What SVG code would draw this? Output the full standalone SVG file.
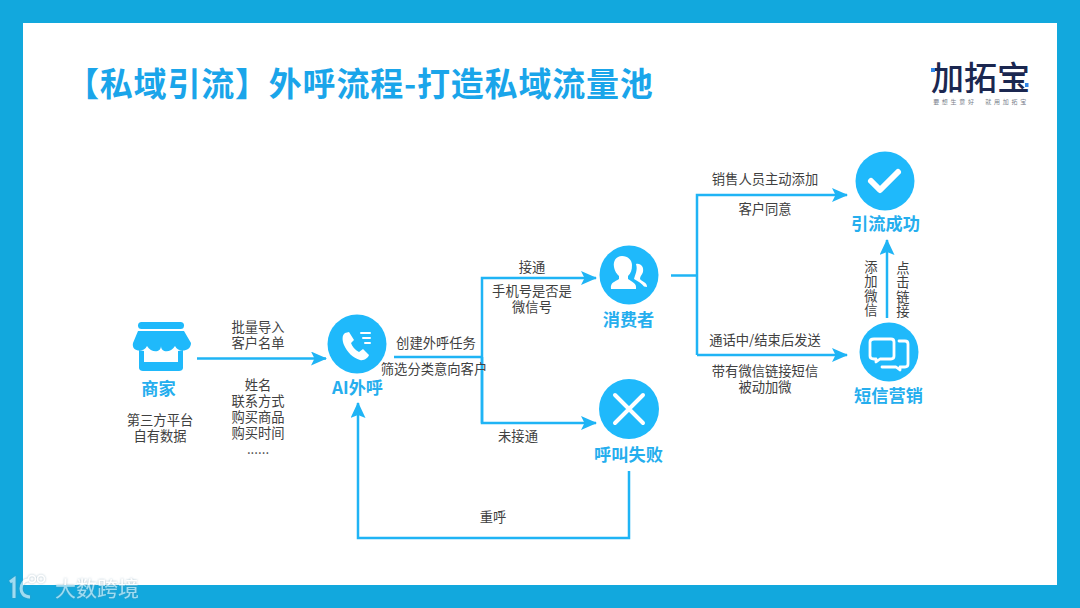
<svg xmlns="http://www.w3.org/2000/svg" width="1080" height="608" viewBox="0 0 1080 608">
<style>
text{font-family:"Noto Sans CJK SC","Noto Sans",sans-serif}
.t{font-size:13.300px;fill:#404040;text-anchor:middle}
.v{font-size:13.300px;fill:#404040;writing-mode:vertical-rl;letter-spacing:1.200px}
.n{font-size:17.200px;font-weight:700;fill:#25aeee;text-anchor:middle}
.c{fill:none;stroke:#1fb4f5;stroke-width:2.500}
.a{fill:#1fb4f5}
.d{fill:#1fb9fb}
.w{fill:#fff}
.l{fill:none;stroke:#fff;stroke-linecap:round;stroke-linejoin:round}
</style>
<defs>
<marker id="ah" viewBox="0 0 16 14" refX="15" refY="7" markerUnits="userSpaceOnUse" markerWidth="16" markerHeight="14" orient="auto"><path class="a" d="M0 0L16 7L0 14L3.500 7Z"/></marker>
<marker id="ahb" viewBox="0 0 16 15" refX="15" refY="7.500" markerUnits="userSpaceOnUse" markerWidth="16" markerHeight="15" orient="auto"><path class="a" d="M0 0L16 7.500L0 15L3 7.500Z"/></marker>
<filter id="sh" x="-20%" y="-40%" width="140%" height="180%"><feDropShadow dx="0" dy="0" stdDeviation="1" flood-color="#5f8ea6" flood-opacity="1"/></filter>
</defs>
<rect width="1080" height="608" fill="#12a8dd"/>
<rect x="23" y="23" width="1034" height="562" fill="#fff"/>
<text id="title" x="66" y="96" font-size="33" font-weight="700" fill="#1aa5ea" letter-spacing="0.800">【私域引流】外呼流程-打造私域流量池</text>
<g id="logo">
<text x="980.500" y="90" font-size="33" font-weight="500" fill="#1b2750" text-anchor="middle">加拓宝</text>
<rect x="931" y="68" width="4" height="4" fill="#2f86e8"/>
<rect x="1025" y="83" width="3.500" height="4" fill="#2f86e8"/>
<text x="981" y="104" font-size="6" fill="#7a7f8c" text-anchor="middle" letter-spacing="2.700">要想生意好　就用加拓宝</text>
</g>
<g id="connectors">
<path class="c" marker-end="url(#ah)" d="M197 358.500H326"/>
<path class="c" d="M394 357H482"/>
<path class="c" marker-end="url(#ah)" d="M482 423V278H596"/>
<path class="c" marker-end="url(#ah)" d="M482 357V423H596"/>
<path class="c" marker-end="url(#ahb)" d="M629 471V538H358V403"/>
<path class="c" d="M671 275.500H697"/>
<path class="c" marker-end="url(#ah)" d="M697 355V195H847"/>
<path class="c" marker-end="url(#ah)" d="M697 355H847"/>
<path class="c" marker-end="url(#ahb)" d="M887 318V240"/>
</g>
<g id="shop">
<rect x="138" y="322" width="46" height="7" rx="3.500" class="d"/>
<path class="d" d="M138 331H184L191 343C191 352 178 353 175 346C171 353 161 353 161 346C161 353 151 353 147 346C144 353 131 352 133 343Z"/>
<path class="d" d="M139 350V368C139 370 141 371 143 371H179C181 371 183 370 183 368V350L178 351V362H144V351Z"/>
<text class="n" x="158.500" y="395">商家</text>
<text class="t" x="160" y="425">第三方平台</text>
<text class="t" x="160" y="441">自有数据</text>
</g>
<g id="ai">
<circle class="d" cx="357" cy="344" r="29.500"/>
<path class="w" d="M345 333C342 335 342 340 344 345C347 352 353 358 360 360C364 361 368 358 369 355L363 349L359 352C355 350 352 346 351 343L354 340L349 332Z"/>
<path class="l" stroke-width="2" d="M361 333H370M363 338H370M365 343H370"/>
<text class="n" x="357.500" y="394">AI外呼</text>
</g>
<g id="consumer">
<circle class="d" cx="629" cy="275" r="29.500"/>
<path class="w" d="M622 256C616 256 613 261 614 267C615 272 617 274 619 276V279C615 282 610 282 611 289H636C637 283 632 282 628 279V276C631 273 632 270 632 265C632 260 628 256 622 256Z"/>
<path class="w" d="M636 264C641 263 644 267 643 272C642 275 640 276 640 279C642 282 647 282 647 287L644 286.500C642 284 638 281 634 279C635 275 638 270 636 264Z"/>
<text class="n" x="628.500" y="326">消费者</text>
</g>
<g id="fail">
<circle class="d" cx="629" cy="409" r="30"/>
<path class="l" stroke-width="4" stroke-linecap="butt" d="M615 395L643 423M643 395L615 423"/>
<text class="n" x="628.500" y="461">呼叫失败</text>
</g>
<g id="success">
<circle class="d" cx="885" cy="181" r="29.500"/>
<path class="l" stroke-width="6" stroke-linecap="butt" stroke-linejoin="miter" d="M871 181L880 190L898 172"/>
<text class="n" x="885.500" y="230">引流成功</text>
</g>
<g id="sms">
<circle class="d" cx="889" cy="352" r="29.500"/>
<path class="l" stroke-width="2.800" d="M874 339H891C893 339 894 340 894 342V356C894 358 893 359 891 359H880L876 362V359H874C872 359 870 358 870 356V342C870 340 872 339 874 339Z"/>
<path class="l" stroke-width="2.800" d="M899 341H905C907 341 908 342 908 344V364C908 366 907 367 905 367H900V370L896 367H882"/>
<text class="n" x="888.500" y="402">短信营销</text>
</g>
<g id="labels">
<text class="t" x="258" y="332">批量导入</text>
<text class="t" x="258" y="348">客户名单</text>
<text class="t" x="258" y="390">姓名</text>
<text class="t" x="258" y="406">联系方式</text>
<text class="t" x="258" y="422">购买商品</text>
<text class="t" x="258" y="438">购买时间</text>
<text class="t" x="258" y="454">......</text>
<text class="t" x="436" y="348">创建外呼任务</text>
<text class="t" x="434" y="374">筛选分类意向客户</text>
<text class="t" x="532" y="272">接通</text>
<text class="t" x="532" y="296">手机号是否是</text>
<text class="t" x="532" y="312">微信号</text>
<text class="t" x="518" y="441">未接通</text>
<text class="t" x="493" y="522">重呼</text>
<text class="t" x="765" y="184">销售人员主动添加</text>
<text class="t" x="765" y="214">客户同意</text>
<text class="t" x="765" y="345">通话中/结束后发送</text>
<text class="t" x="765" y="376">带有微信链接短信</text>
<text class="t" x="765" y="392">被动加微</text>
<text class="v" x="871" y="260">添加微信</text>
<text class="v" x="903" y="261">点击链接</text>
</g>
<g id="watermark" filter="url(#sh)" opacity="0.6">
<path fill="none" stroke="#fff" stroke-width="3" d="M10 582L14 579V598M28 580C20 580 17 597 30 597"/>
<circle cx="32" cy="579" r="3.500" fill="none" stroke="#fff" stroke-width="1.500"/><circle cx="41" cy="579" r="3.500" fill="none" stroke="#fff" stroke-width="1.500"/>
<text x="55" y="596" font-size="21" fill="#fff">大数跨境</text>
</g>
</svg>
